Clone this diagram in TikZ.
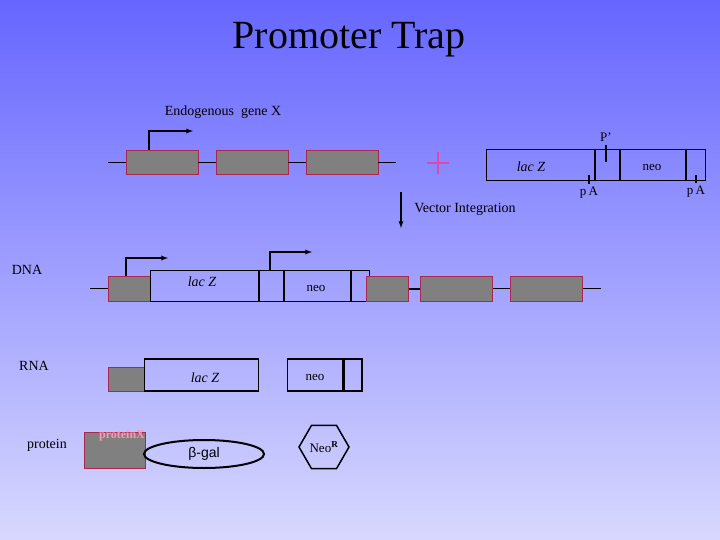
\documentclass[tikz,border=0pt]{standalone}
\usepackage{fontspec}
\setmainfont{Liberation Serif}
\newfontfamily\sansgreek{Liberation Sans}
\usetikzlibrary{positioning}
\usetikzlibrary{calc}
\usetikzlibrary{arrows,shapes}

\definecolor{bgtop}{RGB}{102,102,255}
\definecolor{bgbot}{RGB}{216,216,255}
\definecolor{exonfill}{RGB}{128,128,128}
\definecolor{exonline}{RGB}{170,40,80}
\definecolor{plusc}{RGB}{225,70,175}
\definecolor{protx}{RGB}{255,150,180}

\tikzset{
exon/.style={draw=exonline, fill=exonfill, line width=0.9pt, inner sep=0pt, minimum height=24pt},
part/.style={draw, line width=1pt, inner sep=0pt, minimum height=31pt},
divider/.style={line width=2pt},
tick/.style={line width=1.6pt},
prom/.style={-latex, line width=1.3pt},
lbl/.style={font=\fontsize{14}{16}\selectfont},
small/.style={font=\fontsize{13}{15}\selectfont},
lacz/.style={font=\itshape\fontsize{14}{16}\selectfont},
}

\begin{document}
\begin{tikzpicture}[x=1pt,y=-1pt]
\shade[top color=bgtop, bottom color=bgbot] (0,0) rectangle (720,540);
\useasboundingbox (0,0) rectangle (720,540);

\node[font=\fontsize{40}{44}\selectfont](title) at (349,40){Promoter Trap};
\node[lbl](gene) at (223,112){Endogenous\ \ gene X};

% gene X
\coordinate (topL) at (108,162);
\coordinate (topR) at (396,162);
\node[exon, minimum width=72pt](gx1) at (162,162){};
\node[exon, minimum width=72pt](gx2) at (252,162){};
\node[exon, minimum width=72pt](gx3) at (342,162){};
\coordinate (gxP) at (149,150);
\coordinate (gxPend) at (193,131);

\path
(topL) edge (gx1)
(gx1) edge (gx2)
(gx2) edge (gx3)
(gx3) edge (topR);
\draw[prom] (gxP) |- (gxPend);

% plus
\draw[plusc, line width=1.3pt] (427,163) -- (449,163) (438,152) -- (438,174);

% vector
\node[part, anchor=west, minimum width=108pt](vlac) at (486,165.5){};
\node[part, anchor=west, minimum width=24pt](vsp) at (vlac.east){};
\node[part, anchor=west, minimum width=65pt](vneo) at (vsp.east){};
\node[part, anchor=west, minimum width=19pt](vend) at (vneo.east){};
\node[lacz](vlactxt) at (531,167){lac Z};
\node[small](vneotxt) at (652,168){neo};
\draw[divider] (vlac.north east) -- (vlac.south east);
\draw[divider] (vsp.north east) -- (vsp.south east);
\draw[divider] (vneo.north east) -- (vneo.south east);

\node[small](Plab) at (606,137){P'};
\coordinate (Ptip) at (606,162);
\node[small](pA1) at (589,193){p\,A};
\coordinate (pA1tip) at (589,175);
\node[small](pA2) at (696,192){p\,A};
\coordinate (pA2tip) at (696,175);
\draw[tick] (Plab.south) -- (Ptip);
\draw[tick] (pA1.north) -- (pA1tip);
\draw[tick] (pA2.north) -- (pA2tip);

% integration
\coordinate (viTop) at (401,192);
\coordinate (viBot) at (401,228);
\draw[-latex, line width=1.3pt] (viTop) -- (viBot);
\node[lbl](vi) at (465,209){Vector Integration};

% DNA
\node[lbl](dna) at (27,270){DNA};
\coordinate (dL) at (90,288.5);
\coordinate (dR) at (601,288.5);
\node[exon, anchor=west, minimum width=42pt, minimum height=25pt](d1) at (108,288.5){};
\node[part, anchor=west, minimum width=108pt](dlac) at (150,285.5){};
\node[part, anchor=west, minimum width=24pt](dsp) at (dlac.east){};
\node[part, anchor=west, minimum width=66pt](dneo) at (dsp.east){};
\node[part, anchor=west, minimum width=18pt](dend) at (dneo.east){};
\node[exon, anchor=west, minimum width=42pt, minimum height=25pt](d2) at (366,288.5){};
\node[exon, anchor=west, minimum width=72pt, minimum height=25pt](d3) at (420,288.5){};
\node[exon, anchor=west, minimum width=72pt, minimum height=25pt](d4) at (510,288.5){};
\node[lacz](dlactxt) at (202,282){lac Z};
\node[small](dneotxt) at (316,288){neo};
\draw[divider] (dlac.north east) -- (dlac.south east);
\draw[divider] (dsp.north east) -- (dsp.south east);
\draw[divider] (dneo.north east) -- (dneo.south east);

\path
(dL) edge (d1)
(d2) edge[line width=2pt] (d3)
(d3) edge (d4)
(d4) edge (dR);

\coordinate (dP1) at (126,276);
\coordinate (dP1end) at (168,258);
\coordinate (dP2) at (270,270);
\coordinate (dP2end) at (312,252);
\draw[prom] (dP1) |- (dP1end);
\draw[prom] (dP2) |- (dP2end);

% RNA
\node[lbl](rna) at (34,366){RNA};
\node[exon, anchor=west, minimum width=36pt](r1) at (108,379){};
\node[part, anchor=west, line width=1.4pt, minimum width=114pt, minimum height=32pt](rlac) at (144,375){};
\node[part, anchor=west, line width=1.4pt, minimum width=55pt, minimum height=32pt](rneo) at (287,375){};
\node[part, anchor=west, line width=1.4pt, minimum width=18pt, minimum height=32pt](rend) at (rneo.east){};
\node[lacz](rlactxt) at (205,378){lac Z};
\node[small](rneotxt) at (315,377){neo};

% protein
\node[lbl](prot) at (47,445){protein};
\node[exon, anchor=west, minimum width=61pt, minimum height=36pt](px) at (84,450){};
\node[text=protx, font=\bfseries\fontsize{12}{14}\selectfont](pxlab) at (122,436){proteinX};
\node[draw, ellipse, line width=2pt, inner sep=0pt, minimum width=120pt, minimum height=28pt](bgal) at (204,454){\sansgreek\fontsize{14}{16}\selectfont β-gal};
\node[draw, regular polygon, regular polygon sides=6, minimum size=50pt, line width=1.5pt, inner sep=0pt](neoR) at (324,447){\fontsize{13}{15}\selectfont Neo\textsuperscript{\textbf{R}}};
\end{tikzpicture}
\end{document}
